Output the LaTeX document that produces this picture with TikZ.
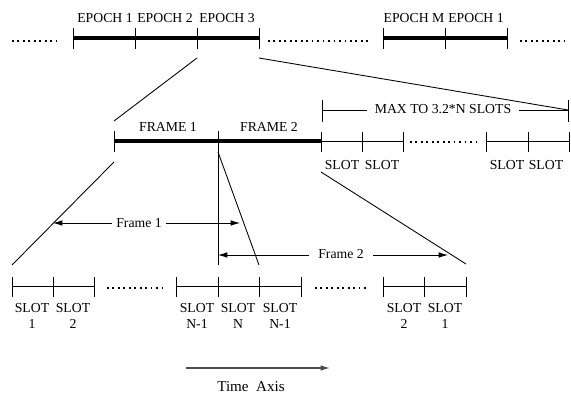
\documentclass[tikz,border=0pt]{standalone}
\usepackage{fontspec}
\setmainfont{Liberation Serif}
\usetikzlibrary{arrows.meta}
\begin{document}
\begin{tikzpicture}[x=0.75pt,y=-0.75pt,
  thinln/.style={line width=0.65pt},
  thickbar/.style={line width=2.5pt},
  dotline/.style={line width=1.3pt, dash pattern=on 1.3pt off 2.8pt},
  lbl/.style={font=\fontsize{10.3}{12}\selectfont, inner sep=0pt, anchor=base},
  gaplbl/.style={lbl, fill=white, inner xsep=4pt},
  tip/.style={-{Latex[length=7pt,width=4.2pt]}},
  dtip/.style={{Latex[length=7pt,width=4.2pt]}-{Latex[length=7pt,width=4.2pt]}}]
\useasboundingbox (0,0) rectangle (571,395);

% ---------- top row: epochs ----------
\draw[dotline] (12,41) -- (60,41);
\draw[dotline] (268,41) -- (368,41);
\draw[dotline] (520,41) -- (566,41);
\draw[thickbar] (73,38) -- (259,38);
\draw[thickbar] (383,38) -- (507,38);
\foreach \x in {73,135,197,259,383,445,507}
  \draw[thinln] (\x,28) -- (\x,49);
\node[lbl] (e1) at (105,23) {EPOCH 1};
\node[lbl] (e2) at (165,23) {EPOCH 2};
\node[lbl] (e3) at (227,23) {EPOCH 3};
\node[lbl] (em) at (414,23) {EPOCH M};
\node[lbl] (e1b) at (476,23) {EPOCH 1};

% zoom lines from epoch 3
\coordinate (e3l) at (197,58);
\coordinate (e3r) at (259,58);
\coordinate (f1l) at (114,121);
\coordinate (mxr) at (568,110);
\draw[thinln] (e3l) -- (f1l);
\draw[thinln] (e3r) -- (mxr);

% ---------- frame row ----------
\draw[thickbar] (114,141) -- (321,141);
\draw[thinln] (321,141) -- (403,141);
\draw[thinln] (486,141) -- (569,141);
\draw[thinln] (114,131) -- (114,152);
\draw[thinln] (321,132) -- (321,152);
\foreach \x in {362,403,486,528,569}
  \draw[thinln] (\x,132) -- (\x,152);
\draw[dotline] (410,142) -- (480,142);
\node[lbl] (fr1) at (168,132) {FRAME 1};
\node[lbl] (fr2) at (269,132) {FRAME 2};
\node[lbl] (s1) at (342,170) {SLOT};
\node[lbl] (s2) at (382,170) {SLOT};
\node[lbl] (s3) at (507,170) {SLOT};
\node[lbl] (s4) at (546,170) {SLOT};

% bracket
\draw[thinln] (322,100) -- (322,122);
\draw[thinln] (568,100) -- (568,122);
\draw[thinln] (322,110) -- (568,110);
\node[gaplbl, inner xsep=6pt] (mx) at (443,114) {MAX TO 3.2*N SLOTS};

% ---------- lines down to slots ----------
\coordinate (a1) at (114,162);
\coordinate (a2) at (12,265);
\coordinate (b1) at (218,131);
\coordinate (b2) at (218,265);
\coordinate (c1) at (218,152);
\coordinate (c2) at (259,265);
\coordinate (d1) at (321,172);
\coordinate (d2) at (466,264);
\draw[thinln] (a1) -- (a2);
\draw[thinln] (b1) -- (b2);
\draw[thinln] (c1) -- (c2);
\draw[thinln] (d1) -- (d2);

% frame arrows
\coordinate (fa1) at (53,223);
\coordinate (fa2) at (240,223);
\draw[thinln, dtip] (fa1) -- (fa2);
\node[gaplbl, inner xsep=3pt] (lf1) at (139,228) {Frame 1};
\coordinate (fb1) at (218,255);
\coordinate (fb2) at (448,255);
\draw[thinln, dtip] (fb1) -- (fb2);
\node[gaplbl, inner xsep=7pt] (lf2) at (341,259) {Frame 2};

% ---------- bottom row: slots ----------
\draw[thinln] (12,286) -- (94,286);
\draw[thinln] (176,286) -- (301,286);
\draw[thinln] (383,286) -- (466,286);
\foreach \x in {12,53,94,176,218,259,301,383,424,466}
  \draw[thinln] (\x,277) -- (\x,297);
\draw[dotline] (107,288) -- (163,288);
\draw[dotline] (315,288) -- (368,288);
\foreach \x/\t/\n in {32/1/b1, 73/2/b2, 197/N-1/b3, 238/N/b4, 280/N-1/b5, 404/2/b6, 445/1/b7} {
  \node[lbl] (\n s) at (\x,312) {SLOT};
  \node[lbl] (\n n) at (\x,329) {\t};
}

% time axis
\coordinate (t1) at (186,368);
\coordinate (t2) at (330,368);
\draw[line width=0.9pt, black!70, tip] (t1) -- (t2);
\node[lbl, font=\fontsize{11.3}{13}\selectfont] (ta) at (251,391) {Time\ \ Axis};
\end{tikzpicture}
\end{document}
